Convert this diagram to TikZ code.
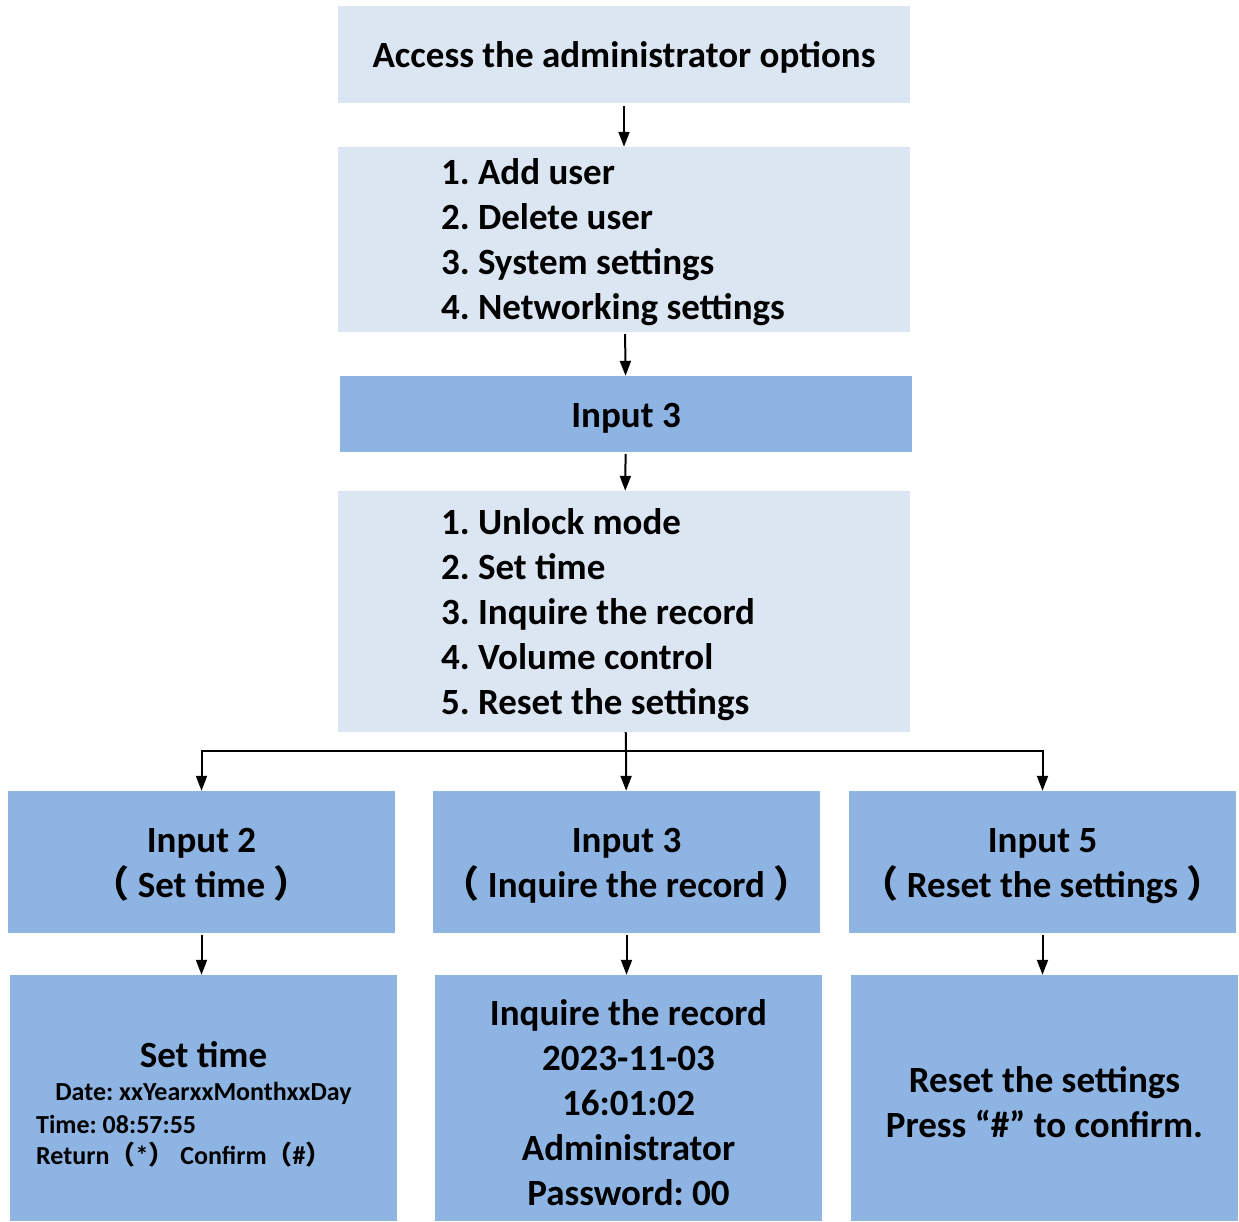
\documentclass[tikz,border=0pt]{standalone}
\usepackage{fontspec}
\setmainfont{Carlito}
\newfontfamily\cjkfont{Noto Sans CJK SC}
\frenchspacing
\usetikzlibrary{arrows.meta}
\definecolor{paleblue}{HTML}{DCE6F2}
\definecolor{midblue}{HTML}{8EB4E3}
\newcommand{\lpar}{{\cjkfont （}}
\newcommand{\rpar}{{\cjkfont ）}}
\tikzset{
  box/.style = {inner sep=0pt, font=\bfseries\fontsize{37}{45}\selectfont,
                execute at begin node={\rule{0pt}{35pt}},
                execute at end node={\rule[-9pt]{0pt}{9pt}}},
  lowtext/.style = {execute at begin node={\rule{0pt}{43pt}}},
  palebox/.style = {box, fill=paleblue, minimum width=572pt},
  midbox/.style = {box, fill=midblue, text width=#1, align=flush center},
  midbox/.default = 387pt,
  listbox/.style = {palebox, text width=366pt, inner xsep=103pt, align=flush left},
  smalltext/.style = {inner sep=0pt, font=\bfseries\fontsize{26}{32}\selectfont},
  link/.style = {-{Triangle[length=15pt,width=11pt]}, line width=2pt},
}
\begin{document}
\begin{tikzpicture}[x=1pt,y=-1pt]
  \useasboundingbox (0,0) rectangle (1239,1222);
  %%% main column
  \node[palebox, minimum height=97pt] (access) at (624,54.5) {Access the administrator options};
  \node[listbox, minimum height=185pt] (menu) at (624,239.5)
    {1. Add user\\2. Delete user\\3. System settings\\4. Networking settings};
  \node[midbox=572pt, minimum height=76pt] (pick) at (626,414) {Input 3};
  \node[listbox, minimum height=241pt] (sys) at (624,611.5)
    {1. Unlock mode\\2. Set time\\3. Inquire the record\\4. Volume control\\5. Reset the settings};
  %
  \draw[link, shorten <=3pt] (access) -- (menu);
  \draw[link, shorten <=2pt] (menu) -- (pick);
  \draw[link, shorten <=2pt] (pick) -- (sys);
  %%% choices
  \node[midbox, minimum height=142pt] (intime) at (201.5,862)
    {Input 2\\\lpar{} Set time \rpar};
  \node[midbox, minimum height=142pt] (inrec) at (626.5,862)
    {Input 3\\\lpar{} Inquire the record \rpar};
  \node[midbox, minimum height=142pt] (inreset) at (1042.5,862)
    {Input 5\\\lpar{} Reset the settings \rpar};
  %
  \coordinate (split) at (626,751);
  \draw[line width=2pt] (sys) -- (split);
  \draw[link] (split) -| (intime);
  \draw[link] (split) -- (inrec);
  \draw[link] (split) -| (inreset);
  %%% screens
  \node[midbox, minimum height=246pt] (settime) at (203.5,1098) {};
  \node[midbox, lowtext, minimum height=246pt] (record) at (628.5,1098)
    {Inquire the record\\2023-11-03\\16:01:02\\Administrator\\Password: 00};
  \node[midbox, lowtext, minimum height=246pt] (reset) at (1044.5,1098)
    {Reset the settings\\Press “\#” to confirm.};
  \node[box, anchor=base] (sttitle) at (203.5,1067) {Set time};
  \node[smalltext, anchor=base] (stdate) at (203.5,1100) {Date: xxYearxxMonthxxDay};
  \node[smalltext, anchor=base west] (stclock) at (36,1133) {Time: 08:57:55};
  \node[smalltext, anchor=base west] (stkeys) at (36,1164) {Return\lpar*\rpar{} Confirm\lpar\#\rpar};
  %
  \draw[link, shorten <=2pt] (intime) -- (intime |- settime.north);
  \draw[link, shorten <=2pt] (inrec) -- (inrec |- record.north);
  \draw[link, shorten <=2pt] (inreset) -- (inreset |- reset.north);
\end{tikzpicture}
\end{document}
